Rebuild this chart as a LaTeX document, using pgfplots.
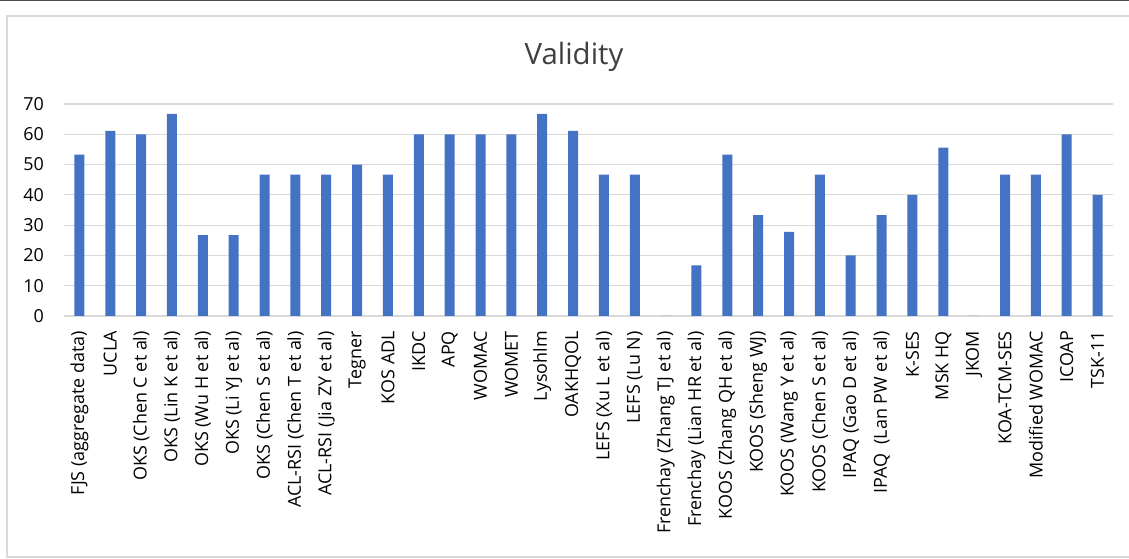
\documentclass[border=0pt]{standalone}
\usepackage{fontspec}
\setmainfont{Open Sans}
\usepackage{pgfplots}
\pgfplotsset{compat=1.18}

\definecolor{barblue}{HTML}{4472C4}
\definecolor{gridgray}{HTML}{D9D9D9}
\definecolor{titlegray}{HTML}{404040}

\begin{document}
\begin{tikzpicture}[x=1bp,y=1bp]
  \useasboundingbox (0,0) rectangle (1129,559);
  % chart frame
  \draw[gridgray, line width=1.2bp] (1135,543) -- (7,543) -- (7,2) -- (1135,2);
  \draw[black!70, line width=1.5bp] (0,558.5) -- (1129,558.5);
  \node[anchor=base, font=\fontsize{29.5}{33}\selectfont, text=titlegray] at (574,494) {Validity};

  \begin{axis}[
      at={(64bp,243bp)}, anchor=south west,
      scale only axis,
      width=1049bp, height=212bp,
      ybar, bar width=10bp,
      xmin=-0.5, xmax=33.5,
      ymin=0, ymax=70,
      ytick={0,10,...,70},
      xtick=data,
      xticklabels={FJS (aggregate data), UCLA, OKS (Chen C et al), OKS (Lin K et al),
        OKS (Wu H et al), OKS (Li YJ et al), OKS (Chen S et al), ACL-RSI (Chen T et al),
        ACL-RSI (Jia ZY et al), Tegner, KOS ADL, IKDC, APQ, WOMAC, WOMET, Lysohlm,
        OAKHQOL, LEFS (Xu L et al), LEFS (Lu N), Frenchay (Zhang TJ et al),
        Frenchay (Lian HR et al), KOOS (Zhang QH et al), KOOS (Sheng WJ),
        KOOS (Wang Y et al), KOOS (Chen S et al), IPAQ (Gao D et al),
        IPAQ~~(Lan PW et al), K-SES, MSK HQ, JKOM, KOA-TCM-SES, Modified WOMAC,
        ICOAP, TSK-11},
      axis line style={draw=none},
      major tick length=0pt,
      ymajorgrids, grid style={gridgray, line width=1.2bp},
      tick label style={font=\fontsize{18}{20}\selectfont, inner sep=0pt},
      /pgf/number format/assume math mode=true,
      yticklabel style={anchor=east},
      yticklabel shift=20bp,
      xticklabel style={yshift=-15bp, rotate=90, anchor=east},
    ]
    \addplot[fill=barblue, draw=none] coordinates {
      (0,53.3) (1,61.1) (2,60) (3,66.7) (4,26.7) (5,26.7) (6,46.7) (7,46.7)
      (8,46.7) (9,50) (10,46.7) (11,60) (12,60) (13,60) (14,60) (15,66.7)
      (16,61.1) (17,46.7) (18,46.7) (19,0) (20,16.7) (21,53.3) (22,33.3)
      (23,27.8) (24,46.7) (25,20) (26,33.3) (27,40) (28,55.6) (29,0)
      (30,46.7) (31,46.7) (32,60) (33,40)
    };
  \end{axis}
\end{tikzpicture}
\end{document}
